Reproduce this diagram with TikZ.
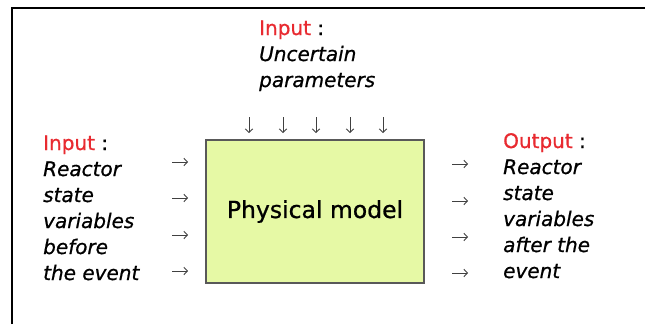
\documentclass[tikz,border=0pt]{standalone}
\usepackage{fontspec}
\setmainfont[FakeBold=0.8]{DejaVu Sans}
\usetikzlibrary{arrows.meta}
\definecolor{inred}{RGB}{232,42,48}
\definecolor{modelfill}{RGB}{230,249,165}
\tikzset{
  txtblock/.style={anchor=base west, inner sep=0pt, align=left,
                   font=\fontsize{20}{26}\selectfont\itshape},
  modelbox/.style={draw=black!65, line width=1.3pt, fill=modelfill,
                   minimum width=218pt, minimum height=143pt,
                   font=\fontsize{23.5}{28}\selectfont},
  flowarrow/.style={-{Straight Barb[length=3.5pt,width=7.5pt]}, line width=0.9pt, black!75}
}
\newcommand{\headin}[1]{{\upshape\textcolor{inred}{#1} :}}

\begin{document}
\begin{tikzpicture}[x=1pt, y=-1pt]
\useasboundingbox (0,0) rectangle (645,324);
% frame
\draw[line width=1.2pt] (12,324) -- (12,8) -- (645,8);
% model
\node[modelbox] (model) at (315,211.5) {Physical model};
% labels (anchored at the last baseline)
\node[txtblock] (params) at (259,87) {\headin{Input}\\Uncertain\\parameters};
\node[txtblock] (before) at (43,280) {\headin{Input}\\Reactor\\state\\variables\\before\\the event};
\node[txtblock] (after) at (503,278) {\headin{Output}\\Reactor\\state\\variables\\after the\\event};
% arrows
\foreach \x in {249,283,316,350,383}
    \draw[flowarrow] (\x,117) -- (\x,133);
\foreach \y in {162,198,235,271}
    \draw[flowarrow] (172,\y) -- (188,\y);
\foreach \y in {164,201,237,273}
    \draw[flowarrow] (452,\y) -- (468,\y);
\end{tikzpicture}
\end{document}
